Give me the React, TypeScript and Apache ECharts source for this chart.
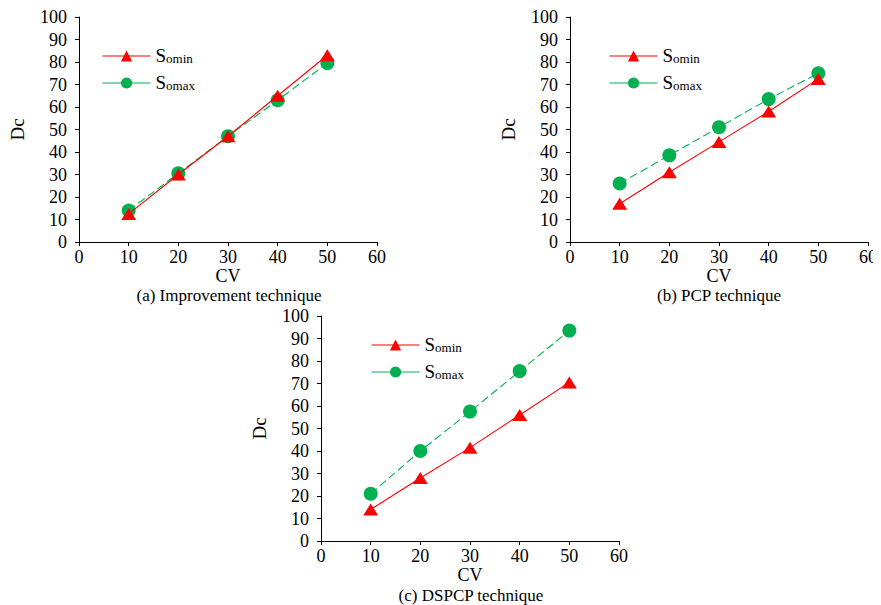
import React, { useEffect, useRef } from "react";
import * as echarts from "echarts";

const cv = [10, 20, 30, 40, 50];
const improvementMin = [12.5, 30, 47, 65, 83];
const improvementMax = [14, 30.5, 47, 63, 79.5];
const pcpMin = [17, 31, 44.5, 58, 72.5];
const pcpMax = [26, 38.5, 51, 63.5, 75];
const dspcpMin = [14, 28, 41.5, 56, 70.5];
const dspcpMax = [21, 40, 57.5, 75.5, 93.5];
const captions = ["(a) Improvement technique", "(b) PCP technique", "(c) DSPCP technique"];

const FONT = "'Liberation Serif', 'Times New Roman', serif";

export default function App() {
  const ref = useRef<HTMLDivElement>(null);
  useEffect(() => {
    if (!ref.current) return;
    const chart = echarts.init(ref.current, undefined, { renderer: "svg" });
    const grids = [
      { left: 79, top: 17, width: 298, height: 225 },
      { left: 570, top: 17, width: 298, height: 225 },
      { left: 321, top: 316, width: 298, height: 225 },
    ];
    const data = [
      [improvementMin, improvementMax],
      [pcpMin, pcpMax],
      [dspcpMin, dspcpMax],
    ];
    const axisCommon = {
      axisLine: { lineStyle: { color: "#000", width: 1 } },
      axisTick: { inside: false, length: 4, lineStyle: { color: "#000" } },
      splitLine: { show: false },
      axisLabel: { color: "#000", fontFamily: FONT, fontSize: 18 },
      nameTextStyle: { color: "#000", fontFamily: FONT, fontSize: 18 },
    };
    const xAxis = grids.map((_, i) => ({
      ...axisCommon,
      type: "value",
      gridIndex: i,
      min: 0,
      max: 60,
      interval: 10,
      name: "CV",
      nameLocation: "middle",
      nameGap: i === 2 ? 20 : 21,
      nameTextStyle: { ...axisCommon.nameTextStyle, lineHeight: 18 },
      axisLabel: { ...axisCommon.axisLabel, margin: 6 },
    }));
    const yAxis = grids.map((_, i) => ({
      ...axisCommon,
      type: "value",
      gridIndex: i,
      min: 0,
      max: 100,
      interval: 10,
      name: "Dc",
      nameLocation: "middle",
      nameGap: 52,
      nameTextStyle: { ...axisCommon.nameTextStyle, fontSize: 19 },
      axisLabel: { ...axisCommon.axisLabel, margin: 12 },
    }));
    const series: any[] = [];
    data.forEach((pair, i) => {
      series.push({
        name: "Somin",
        type: "line",
        xAxisIndex: i,
        yAxisIndex: i,
        data: cv.map((x, k) => [x, pair[0][k]]),
        symbol: "triangle",
        symbolSize: [15, 12],
        color: "#ff0000",
        lineStyle: { color: "#ff0000", width: 1.1, type: "solid" },
        itemStyle: { color: "#ff0000" },
        z: 3,
      });
      series.push({
        name: "Somax",
        type: "line",
        xAxisIndex: i,
        yAxisIndex: i,
        data: cv.map((x, k) => [x, pair[1][k]]),
        symbol: "circle",
        symbolSize: 14,
        color: "#00b050",
        lineStyle: { color: "#00b050", width: 1.1, type: [8, 4] },
        itemStyle: { color: "#00b050" },
        z: 2,
      });
    });
    const legendPos = [
      { left: 97, top: 41 },
      { left: 604, top: 41 },
      { left: 366, top: 330 },
    ];
    const legend = legendPos.map((p) => ({
      ...p,
      orient: "vertical",
      data: ["Somin", "Somax"],
      itemWidth: 48,
      itemHeight: 14,
      itemGap: 8,
      selectedMode: false,
      lineStyle: { type: "solid", width: 1.1 },
      formatter: (n: string) => (n === "Somin" ? "{s|S}{b|omin}" : "{s|S}{b|omax}"),
      textStyle: {
        color: "#000",
        fontFamily: FONT,
        rich: {
          s: { fontSize: 19, lineHeight: 18, fontFamily: FONT, color: "#000", verticalAlign: "bottom" },
          b: { fontSize: 13, lineHeight: 18, fontFamily: FONT, color: "#000", verticalAlign: "bottom" },
        },
      },
    }));
    const captionPos = [
      [229, 295],
      [719, 295],
      [471, 595],
    ];
    chart.setOption({
      animation: false,
      backgroundColor: "#fff",
      grid: grids.map((g) => ({ ...g, containLabel: false })),
      xAxis,
      yAxis,
      legend,
      series,
      graphic: captions.map((c, i) => ({
        type: "text",
        x: captionPos[i][0],
        y: captionPos[i][1],
        style: {
          text: c,
          fontFamily: FONT,
          fontSize: 17,
          fill: "#000",
          align: "center",
          verticalAlign: "middle",
        },
      })),
    });
    return () => chart.dispose();
  }, []);
  return <div ref={ref} style={{ width: 881, height: 605, marginLeft: -8, marginTop: -8 }} />;
}
